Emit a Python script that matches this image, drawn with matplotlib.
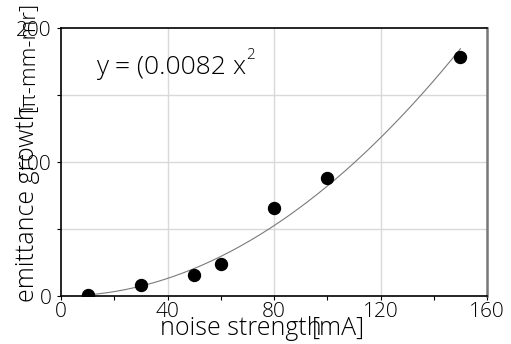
import numpy as np
import matplotlib
matplotlib.use("Agg")
import matplotlib.pyplot as plt

plt.rcParams['font.family'] = ['Open Sans', 'DejaVu Sans']
plt.rcParams['font.weight'] = 'light'

# measured points
noise_ma = [10, 30, 50, 60, 80, 100, 150]
growth = [0.5, 8, 15.5, 24, 66, 88, 178]

# quadratic fit shown on the chart
fit_coef = 0.0082
fit_x = np.linspace(10, 150, 40)

x_ticks = [0, 40, 80, 120, 160]
y_ticks = [0, 100, 200]

fig = plt.figure(figsize=(5.11, 3.44), dpi=100)
ax = fig.add_axes([61/511, 1-296/344, 426/511, 268/344])

ax.plot(fit_x, fit_coef * fit_x**2, color='#7a7a7a', lw=0.8, zorder=2)
ax.plot(noise_ma, growth, 'o', color='black', ms=8.6, zorder=3)

ax.set_xlim(0, 160)
ax.set_ylim(0, 200)
ax.set_xticks(x_ticks)
ax.set_xticks([20, 60, 100, 140], minor=True)
ax.set_yticks(y_ticks)
ax.set_yticks([50, 150], minor=True)
ax.tick_params(which='both', direction='out', length=3, width=0.8, labelsize=15, pad=1)
ax.tick_params(axis='y', pad=4)

# grid at 40/80/120 and every 50 in y
for gx in [40, 80, 120]:
    ax.axvline(gx, color='#d9d9d9', lw=1, zorder=0)
for gy in [50, 100, 150]:
    ax.axhline(gy, color='#d9d9d9', lw=1, zorder=0)

ax.spines['right'].set_color('#777777')
ax.spines['right'].set_linewidth(1.8)
for s in ['left', 'bottom', 'top']:
    ax.spines[s].set_linewidth(1.2)

# equation
ax.text(13.1, 166, 'y = (0.0082', fontsize=19, va='baseline', ha='left')
ax.text(64.5, 166, 'x', fontsize=19, va='baseline', ha='left')
ax.text(69.5, 177, '2', fontsize=11, va='baseline', ha='left')

# axis labels (overlapping pieces as in the original)
fig.text(160/511, 1-335/344, 'noise strength', fontsize=18, va='baseline', ha='left')
fig.text(312/511, 1-335/344, '[mA]', fontsize=18, va='baseline', ha='left')
fig.text(28/511, 1-302/344, 'emittance growth', fontsize=18, rotation=90,
         va='bottom', ha='center')
fig.text(28/511, 1-112/344, '[π-mm-mr]', fontsize=16, rotation=90,
         va='bottom', ha='center')

fig.savefig('out.png', dpi=100)
